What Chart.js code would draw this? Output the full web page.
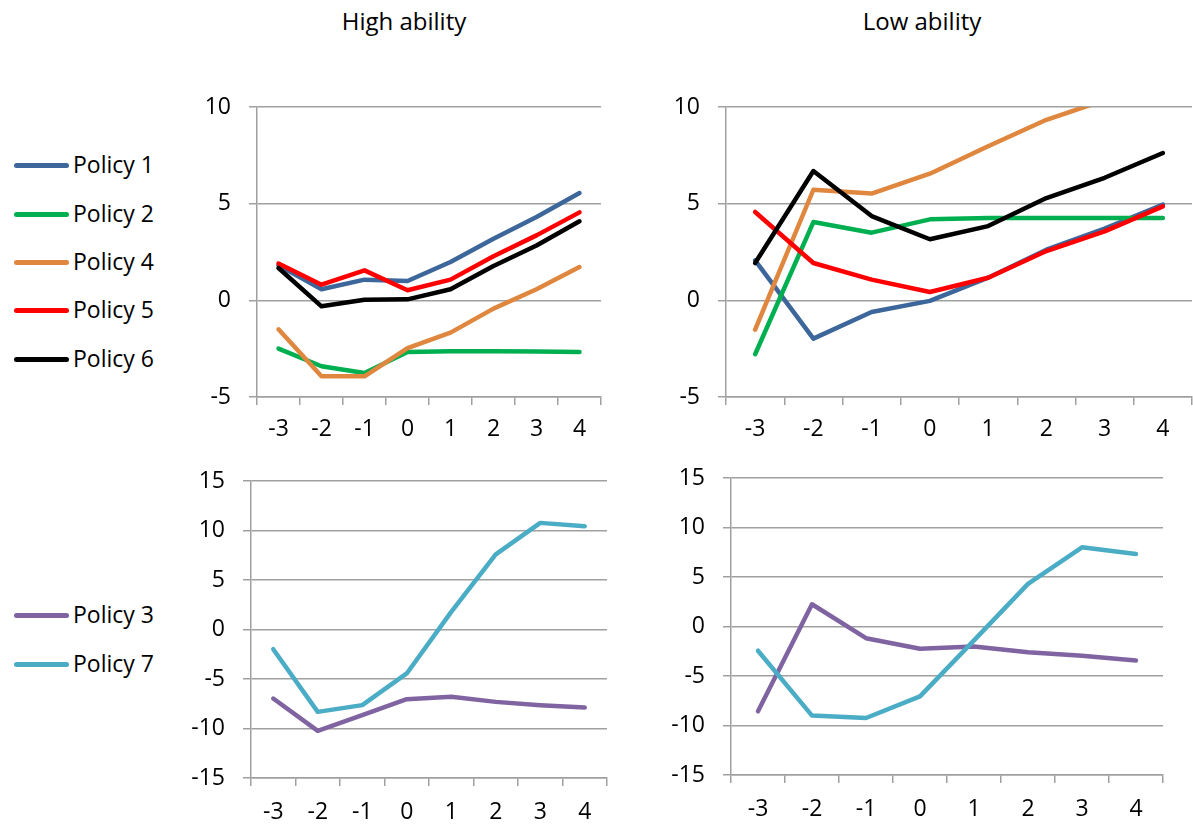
<!DOCTYPE html>
<html>
<head>
<meta charset="utf-8">
<script src="https://cdn.jsdelivr.net/npm/chart.js@4"></script>
<style>
  body { margin: 0; background: #fff; overflow: hidden; font-family: "Open Sans", sans-serif; }
  #page { position: relative; width: 1193px; height: 825px; }
  canvas { position: absolute; }
  .title { position: absolute; font-size: 24px; color: #000; transform: translateX(-50%); white-space: nowrap; }
  .leg { position: absolute; left: 14px; height: 26px; font-size: 23px; line-height: 26px; color: #000; white-space: nowrap; }
  .leg span.sw { display: inline-block; width: 55px; height: 5px; border-radius: 3px; vertical-align: middle; margin-right: 4px; position: relative; top: -1px; }
</style>
</head>
<body>
<div id="page">
  <div class="title" style="left:404px; top:4px;">High ability</div>
  <div class="title" style="left:922px; top:4px;">Low ability</div>
  <div id="legendTop"></div>
  <div id="legendBottom"></div>
  <canvas id="tl"></canvas>
  <canvas id="tr"></canvas>
  <canvas id="bl"></canvas>
  <canvas id="br"></canvas>
</div>
<script>
// categories on the x axis
let categories = ['-3', '-2', '-1', '0', '1', '2', '3', '4'];

// High ability, top panel
let highP1 = [1.81, 0.57, 1.07, 1.0, 1.98, 3.19, 4.31, 5.55];
let highP2 = [-2.5, -3.41, -3.76, -2.67, -2.64, -2.64, -2.65, -2.67];
let highP4 = [-1.5, -3.93, -3.93, -2.47, -1.67, -0.43, 0.57, 1.72];
let highP5 = [1.9, 0.81, 1.55, 0.52, 1.07, 2.28, 3.36, 4.55];
let highP6 = [1.67, -0.31, 0.03, 0.05, 0.57, 1.78, 2.84, 4.09];

// Low ability, top panel
let lowP1 = [2.07, -1.98, -0.6, -0.03, 1.17, 2.62, 3.71, 4.95];
let lowP2 = [-2.79, 4.05, 3.5, 4.19, 4.26, 4.26, 4.26, 4.26];
let lowP4 = [-1.52, 5.72, 5.52, 6.55, 7.97, 9.34, 10.35, 11.4];
let lowP5 = [4.57, 1.93, 1.07, 0.43, 1.17, 2.55, 3.57, 4.86];
let lowP6 = [1.93, 6.69, 4.36, 3.16, 3.84, 5.29, 6.34, 7.62];

// bottom panels
let highP3 = [-6.97, -10.24, -8.65, -7.04, -6.8, -7.31, -7.64, -7.88];
let highP7 = [-1.99, -8.32, -7.64, -4.44, 1.78, 7.58, 10.77, 10.44];
let lowP3 = [-8.57, 2.25, -1.18, -2.25, -2.02, -2.59, -2.96, -3.43];
let lowP7 = [-2.45, -9.0, -9.24, -7.06, -1.4, 4.3, 8.0, 7.33];

// y axis ranges
let topRange = [-5, 10];
let bottomRange = [-15, 15];

let colors = {
    'Policy 1': '#3d679b',
    'Policy 2': '#00b050',
    'Policy 3': '#8064a2',
    'Policy 4': '#e0873f',
    'Policy 5': '#ff0000',
    'Policy 6': '#000000',
    'Policy 7': '#4bacc6'
};

let gridColor = '#a0a0a0';
let yW = 80, xH = 60, padT = 14, padR = 4;

function makeChart(id, area, range, series, xPad) {
    let cv = document.getElementById(id);
    let w = area.r - area.l + yW + padR;
    let h = area.b - area.t + padT + xH;
    cv.style.left = (area.l - yW) + 'px';
    cv.style.top = (area.t - padT) + 'px';
    cv.width = w; cv.height = h;
    cv.style.width = w + 'px'; cv.style.height = h + 'px';

    let datasets = series.map((s, i) => ({
        label: s[0],
        data: s[1],
        borderColor: colors[s[0]],
        backgroundColor: colors[s[0]],
        borderWidth: 4.5,
        pointRadius: 0,
        tension: 0,
        borderCapStyle: 'round',
        borderJoinStyle: 'round',
        order: series.length - i
    }));

    return new Chart(cv.getContext('2d'), {
        type: 'line',
        data: { labels: categories, datasets: datasets },
        options: {
            responsive: false,
            animation: false,
            layout: { padding: { top: padT, right: padR, left: 0, bottom: 0 } },
            plugins: { legend: { display: false }, tooltip: { enabled: false } },
            scales: {
                x: {
                    offset: true,
                    grid: { offset: true, drawOnChartArea: false, drawTicks: true, tickLength: 8, color: gridColor, lineWidth: 1.5 },
                    border: { color: gridColor, width: 1.5 },
                    ticks: { color: '#000', padding: xPad, font: { family: 'Open Sans', size: 23 }, maxRotation: 0 },
                    afterFit: s => { s.height = xH; s.paddingLeft = 0; s.paddingRight = 0; }
                },
                y: {
                    min: range[0], max: range[1],
                    ticks: { stepSize: 5, color: '#000', padding: 18, font: { family: 'Open Sans', size: 23 } },
                    grid: { color: gridColor, tickLength: 8, lineWidth: 1.5 },
                    border: { color: gridColor, width: 1.5 },
                    afterFit: s => { s.width = yW; s.paddingTop = 0; s.paddingBottom = 0; }
                }
            }
        }
    });
}

makeChart('tl', { l: 257, r: 601, t: 107, b: 397 }, topRange, [
    ['Policy 1', highP1], ['Policy 2', highP2], ['Policy 4', highP4], ['Policy 5', highP5], ['Policy 6', highP6]
], 11);
makeChart('tr', { l: 726, r: 1192, t: 107, b: 397 }, topRange, [
    ['Policy 1', lowP1], ['Policy 2', lowP2], ['Policy 4', lowP4], ['Policy 5', lowP5], ['Policy 6', lowP6]
], 11);
makeChart('bl', { l: 251, r: 607, t: 481, b: 778 }, bottomRange, [
    ['Policy 3', highP3], ['Policy 7', highP7]
], 13);
makeChart('br', { l: 731, r: 1163, t: 478, b: 775 }, bottomRange, [
    ['Policy 3', lowP3], ['Policy 7', lowP7]
], 13);

// legends at the left side
function legend(id, names, ys) {
    let box = document.getElementById(id);
    names.forEach((n, i) => {
        let d = document.createElement('div');
        d.className = 'leg';
        d.style.top = (ys[i] - 13) + 'px';
        d.innerHTML = '<span class="sw" style="background:' + colors[n] + '"></span>' + n;
        box.appendChild(d);
    });
}
legend('legendTop', ['Policy 1', 'Policy 2', 'Policy 4', 'Policy 5', 'Policy 6'], [164, 213, 261, 309, 358]);
legend('legendBottom', ['Policy 3', 'Policy 7'], [614, 663]);
</script>
</body>
</html>
